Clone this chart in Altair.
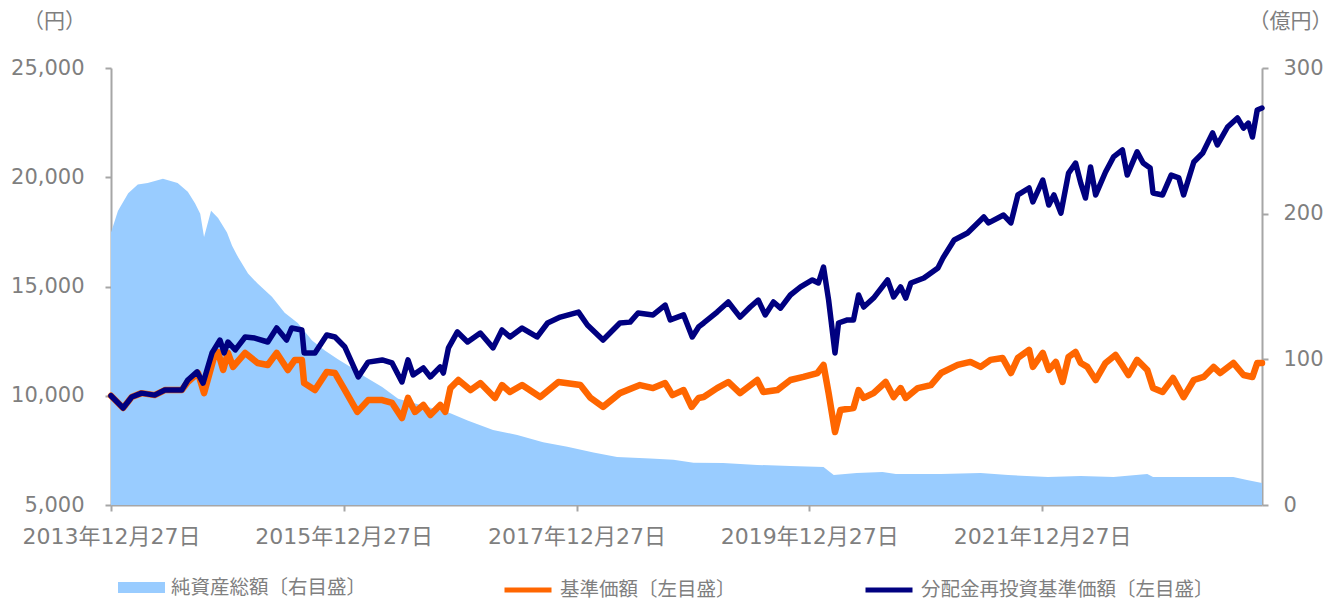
import altair as alt
import pandas as pd

AREA_NAME = "純資産総額〔右目盛〕"
NAV_NAME = "基準価額〔左目盛〕"
REINV_NAME = "分配金再投資基準価額〔左目盛〕"

# 純資産総額（億円）
asset_dates = [
    "2013-12-27", "2014-01-18", "2014-02-19", "2014-03-21", "2014-04-21", "2014-06-08",
    "2014-07-24", "2014-08-25", "2014-09-17", "2014-10-03", "2014-10-15", "2014-11-06",
    "2014-11-28", "2014-12-26", "2015-01-11", "2015-01-30", "2015-03-02", "2015-04-01",
    "2015-05-16", "2015-06-25", "2015-08-05", "2015-09-19", "2015-10-29", "2015-12-09",
    "2016-01-23", "2016-03-03", "2016-04-26", "2016-06-15", "2016-11-26", "2017-01-19",
    "2017-04-09", "2017-06-24", "2017-09-13", "2017-11-28", "2018-02-18", "2018-05-03",
    "2018-08-15", "2018-10-27", "2018-12-29", "2019-04-01", "2019-07-17", "2019-10-29",
    "2020-02-10", "2020-03-13", "2020-05-24", "2020-08-13", "2020-09-24", "2021-02-13",
    "2021-06-17", "2021-09-11", "2022-01-14", "2022-04-27", "2022-08-08", "2022-11-22",
    "2022-12-10", "2023-04-27", "2023-08-19", "2023-10-01", "2023-11-17",
]
asset_values = [
    187, 202, 214, 220, 221, 224,
    221, 215, 207, 200, 184, 202,
    197, 187, 178, 170, 159, 152,
    143, 132, 125, 113, 106, 100,
    94, 88, 81, 73, 63, 58,
    51.5, 48, 43, 40, 36, 33,
    32, 31, 29, 28.8, 27.5, 26.8,
    26.1, 20.6, 22, 22.7, 21.3, 21.3,
    22, 20.6, 19.2, 19.9, 19.2, 21.3,
    19.2, 19.2, 19.2, 17.2, 15.1,
]

# 基準価額（円）
nav_dates = [
    "2013-12-27", "2014-02-03", "2014-03-02", "2014-04-02", "2014-05-13", "2014-06-14",
    "2014-08-06", "2014-08-25", "2014-09-26", "2014-10-15", "2014-11-19", "2014-11-28",
    "2014-12-14", "2014-12-29", "2015-01-14", "2015-02-21", "2015-04-01", "2015-05-03",
    "2015-05-31", "2015-07-05", "2015-07-27", "2015-08-18", "2015-08-25", "2015-09-28",
    "2015-11-04", "2015-11-30", "2015-12-31", "2016-02-08", "2016-03-13", "2016-04-26",
    "2016-05-27", "2016-06-27", "2016-07-16", "2016-08-07", "2016-09-02", "2016-09-24",
    "2016-10-25", "2016-11-10", "2016-11-26", "2016-12-21", "2017-01-28", "2017-02-28",
    "2017-04-15", "2017-05-07", "2017-06-01", "2017-07-09", "2017-09-04", "2017-10-31",
    "2018-01-08", "2018-02-09", "2018-03-20", "2018-05-12", "2018-07-14", "2018-08-24",
    "2018-10-01", "2018-10-24", "2018-11-28", "2018-12-23", "2019-01-14", "2019-01-30",
    "2019-03-13", "2019-04-17", "2019-05-24", "2019-07-17", "2019-08-05", "2019-09-18",
    "2019-10-29", "2019-12-09", "2020-01-22", "2020-02-10", "2020-02-26", "2020-03-17",
    "2020-04-03", "2020-05-14", "2020-05-30", "2020-06-15", "2020-07-16", "2020-08-23",
    "2020-09-17", "2020-10-09", "2020-10-25", "2020-12-02", "2021-01-12", "2021-02-13",
    "2021-04-06", "2021-05-16", "2021-06-17", "2021-07-18", "2021-08-25", "2021-09-20",
    "2021-10-12", "2021-11-16", "2021-11-28", "2021-12-29", "2022-01-17", "2022-02-08",
    "2022-03-01", "2022-03-20", "2022-04-11", "2022-04-27", "2022-05-18", "2022-06-13",
    "2022-07-14", "2022-08-14", "2022-09-08", "2022-09-24", "2022-10-21", "2022-11-22",
    "2022-12-10", "2023-01-09", "2023-02-11", "2023-03-16", "2023-04-17", "2023-05-18",
    "2023-06-18", "2023-07-09", "2023-08-19", "2023-09-20", "2023-10-18", "2023-11-02",
    "2023-11-17",
]
nav_values = [
    10000, 9440, 9940, 10120, 10030, 10260,
    10260, 10630, 11040, 10120, 11960, 12000,
    11180, 11960, 11320, 11960, 11500, 11410,
    11960, 11180, 11640, 11640, 10580, 10260,
    11090, 11040, 10260, 9260, 9800, 9800,
    9670, 8980, 9900, 9260, 9580, 9120,
    9580, 9260, 10350, 10720, 10260, 10580,
    9900, 10490, 10170, 10490, 9940, 10630,
    10490, 9900, 9490, 10120, 10490, 10350,
    10580, 10030, 10260, 9490, 9900, 9940,
    10350, 10630, 10120, 10720, 10170, 10260,
    10720, 10860, 11040, 11410, 10120, 8340,
    9350, 9440, 10260, 9900, 10120, 10630,
    9940, 10350, 9900, 10350, 10490, 11040,
    11410, 11550, 11320, 11640, 11730, 11040,
    11730, 12100, 11320, 11960, 11180, 11550,
    10630, 11780, 12000, 11500, 11320, 10720,
    11500, 11870, 11320, 10950, 11640, 11180,
    10350, 10170, 10810, 9940, 10720, 10860,
    11320, 11040, 11500, 10950, 10860, 11500,
    11500,
]

# 分配金再投資基準価額（円）
reinv_dates = [
    "2013-12-27", "2014-02-03", "2014-03-02", "2014-04-02", "2014-05-13", "2014-06-14",
    "2014-08-06", "2014-08-25", "2014-09-23", "2014-10-12", "2014-11-09", "2014-12-04",
    "2014-12-17", "2014-12-29", "2015-01-21", "2015-02-21", "2015-03-23", "2015-05-03",
    "2015-05-31", "2015-07-01", "2015-07-17", "2015-08-18", "2015-08-25", "2015-09-28",
    "2015-11-04", "2015-11-30", "2015-12-31", "2016-02-11", "2016-03-13", "2016-04-26",
    "2016-05-27", "2016-06-27", "2016-07-16", "2016-08-01", "2016-09-02", "2016-09-24",
    "2016-10-25", "2016-11-04", "2016-11-20", "2016-12-18", "2017-01-19", "2017-02-28",
    "2017-04-09", "2017-05-07", "2017-06-01", "2017-07-09", "2017-08-25", "2017-09-27",
    "2017-11-06", "2018-01-02", "2018-01-30", "2018-03-20", "2018-05-12", "2018-06-13",
    "2018-07-08", "2018-08-24", "2018-10-01", "2018-10-17", "2018-11-28", "2018-12-25",
    "2019-01-14", "2019-01-30", "2019-03-13", "2019-04-17", "2019-05-24", "2019-06-25",
    "2019-07-20", "2019-08-11", "2019-09-06", "2019-09-28", "2019-10-29", "2019-11-30",
    "2020-01-06", "2020-01-25", "2020-02-10", "2020-02-26", "2020-03-17", "2020-03-28",
    "2020-04-25", "2020-05-14", "2020-05-30", "2020-06-15", "2020-07-16", "2020-08-29",
    "2020-09-17", "2020-10-09", "2020-10-25", "2020-11-10", "2020-12-21", "2021-02-03",
    "2021-02-19", "2021-03-26", "2021-05-07", "2021-06-27", "2021-07-12", "2021-08-28",
    "2021-09-20", "2021-10-12", "2021-11-16", "2021-11-28", "2021-12-29", "2022-01-17",
    "2022-02-02", "2022-02-24", "2022-03-20", "2022-04-11", "2022-04-27", "2022-05-12",
    "2022-05-28", "2022-06-13", "2022-07-14", "2022-08-08", "2022-09-05", "2022-09-20",
    "2022-10-21", "2022-11-09", "2022-12-01", "2022-12-10", "2023-01-09", "2023-02-05",
    "2023-03-01", "2023-03-16", "2023-04-17", "2023-05-15", "2023-06-15", "2023-06-30",
    "2023-08-01", "2023-09-01", "2023-09-20", "2023-10-05", "2023-10-18", "2023-11-02",
    "2023-11-17",
]
reinv_values = [
    10000, 9440, 9940, 10120, 10030, 10260,
    10260, 10720, 11090, 10580, 11960, 12550,
    11960, 12460, 12100, 12690, 12640, 12460,
    13100, 12550, 13100, 13010, 11960, 11960,
    12780, 12690, 12230, 10860, 11540, 11640,
    11500, 10630, 11640, 10950, 11270, 10860,
    11320, 11040, 12190, 12920, 12460, 12870,
    12190, 13010, 12690, 13100, 12690, 13330,
    13600, 13830, 13240, 12550, 13330, 13370,
    13790, 13700, 14150, 13470, 13700, 12690,
    13150, 13330, 13830, 14290, 13600, 14060,
    14380, 13700, 14290, 14010, 14610, 14980,
    15300, 15160, 15890, 14380, 11960, 13330,
    13470, 13470, 14610, 14060, 14470, 15300,
    14520, 14980, 14470, 15160, 15390, 15850,
    16310, 17130, 17450, 18180, 17910, 18270,
    17910, 19190, 19510, 18870, 19870, 18730,
    19190, 18360, 20190, 20650, 19740, 19050,
    20470, 19190, 20240, 20930, 21250, 20100,
    21160, 20650, 20420, 19280, 19190, 20100,
    19970, 19190, 20700, 21110, 22030, 21480,
    22300, 22710, 22250, 22480, 21840, 23080,
    23170,
]

left_ticks = [5000, 10000, 15000, 20000, 25000]
right_ticks = [0, 100, 200, 300]
x_tick_years = [2013, 2015, 2017, 2019, 2021]

FONT = "DejaVu Sans, Noto Sans CJK JP, sans-serif"
TEXT_GRAY = "#7f7f7f"
AXIS_GRAY = "#a6a6a6"
AREA_COLOR = "#99CCFF"
NAV_COLOR = "#FF6600"
REINV_COLOR = "#000080"

df_area = pd.DataFrame({"date": asset_dates, "value": asset_values, "series": AREA_NAME})
df_nav = pd.DataFrame({"date": nav_dates, "value": nav_values, "series": NAV_NAME})
df_reinv = pd.DataFrame({"date": reinv_dates, "value": reinv_values, "series": REINV_NAME})

axis_style = dict(
    grid=False,
    domainColor=AXIS_GRAY,
    domainWidth=2,
    tickColor=AXIS_GRAY,
    tickWidth=2,
    tickSize=6,
    labelFont=FONT,
    labelColor=TEXT_GRAY,
    titleFont=FONT,
    titleFontSize=21,
    titleColor=TEXT_GRAY,
    titleFontWeight="normal",
)

x_scale = alt.Scale(
    type="utc",
    domain=[
        alt.DateTime(year=2013, month=12, date=27, utc=True),
        alt.DateTime(year=2023, month=11, date=17, utc=True),
    ],
)
x_axis = alt.Axis(
    values=[alt.DateTime(year=y, month=12, date=27, utc=True) for y in x_tick_years],
    labelExpr="utcFormat(datum.value, '%Y年%m月%d日')",
    title=None,
    labelFlush=False,
    labelOverlap=False,
    labelPadding=15,
    labelFontSize=22,
    **axis_style,
)
x_enc = alt.X("date:T", scale=x_scale, axis=x_axis)

right_axis = alt.Axis(
    orient="right",
    values=right_ticks,
    title="（億円）",
    titleAngle=0,
    titleX=28,
    titleY=-47,
    titleAlign="center",
    titleBaseline="middle",
    labelPadding=15,
    labelFontSize=21,
    **axis_style,
)
left_axis = alt.Axis(
    orient="left",
    values=left_ticks,
    labelExpr="format(datum.value, ',')",
    title="（円）",
    titleAngle=0,
    titleX=-57,
    titleY=-47,
    titleAlign="center",
    titleBaseline="middle",
    labelPadding=21,
    labelFontSize=21,
    **axis_style,
)

area = alt.Chart(df_area).mark_area(opacity=1).encode(
    x=x_enc,
    y=alt.Y("value:Q", scale=alt.Scale(domain=[0, 300], nice=False, zero=True), axis=right_axis),
    fill=alt.Fill(
        "series:N",
        scale=alt.Scale(domain=[AREA_NAME], range=[AREA_COLOR]),
        legend=alt.Legend(
            title=None,
            orient="none",
            legendX=7,
            legendY=496,
            direction="horizontal",
            symbolType="M-1,-0.234H1V0.234H-1Z",
            symbolSize=2209,
            symbolStrokeWidth=0,
            symbolOpacity=1,
            labelFont=FONT,
            labelFontSize=19.5,
            labelColor=TEXT_GRAY,
            labelOffset=6,
            labelLimit=400,
            padding=0,
        ),
    ),
)

line_scale = alt.Scale(domain=[NAV_NAME, REINV_NAME], range=[NAV_COLOR, REINV_COLOR])
line_legend = alt.Legend(
    title=None,
    orient="none",
    legendX=391,
    legendY=496,
    direction="horizontal",
    symbolType="stroke",
    symbolSize=2209,
    symbolStrokeWidth=5,
    columnPadding=119,
    labelFont=FONT,
    labelFontSize=19.5,
    labelColor=TEXT_GRAY,
    labelOffset=6,
    labelLimit=400,
    padding=0,
)
y_left = alt.Y("value:Q", scale=alt.Scale(domain=[5000, 25000], nice=False, zero=False), axis=left_axis)

nav = alt.Chart(df_nav).mark_line(strokeWidth=6.5, strokeCap="round", strokeJoin="round").encode(
    x=x_enc, y=y_left, stroke=alt.Stroke("series:N", scale=line_scale, legend=line_legend)
)
reinv = alt.Chart(df_reinv).mark_line(strokeWidth=5.5, strokeCap="round", strokeJoin="round").encode(
    x=x_enc, y=y_left, stroke=alt.Stroke("series:N", scale=line_scale, legend=line_legend)
)

lines = alt.layer(nav, reinv)

chart = (
    alt.layer(area, lines)
    .resolve_scale(y="independent")
    .properties(
        width=1151,
        height=437,
        padding={"left": 103, "top": 60, "right": 70, "bottom": 96},
        autosize=alt.AutoSizeParams(type="none"),
        background="white",
    )
    .configure_view(stroke=None)
)

chart.save("out.html", embed_options={"renderer": "svg", "actions": False})
